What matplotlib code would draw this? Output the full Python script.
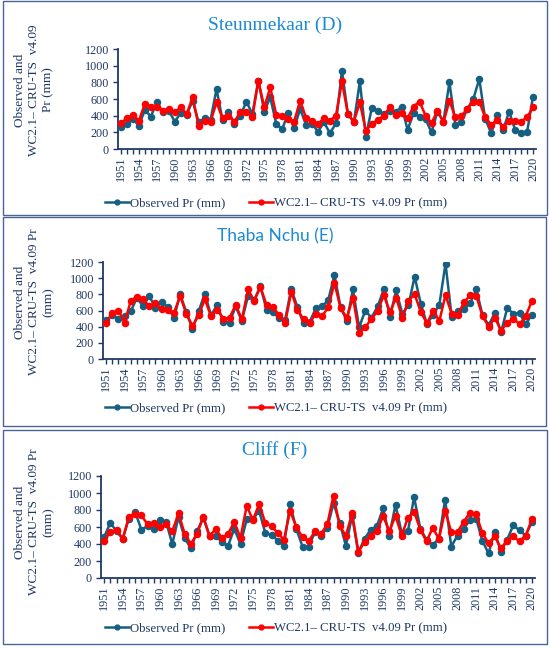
import matplotlib
matplotlib.use("Agg")
import matplotlib.pyplot as plt
from matplotlib.patches import Rectangle
from matplotlib.lines import Line2D
import numpy as np

years = list(range(1951, 2021))

steun_obs = [260, 300, 360, 280, 470, 390, 560, 440, 460, 330,
             430, 410, 580, 320, 370, 350, 720, 350, 450, 300,
             400, 570, 420, 820, 450, 620, 300, 240, 430, 250,
             480, 290, 300, 210, 320, 190, 310, 940, 420, 320,
             810, 150, 490, 460, 420, 460, 440, 510, 230, 430,
             390, 360, 200, 450, 330, 800, 290, 320, 480, 600,
             840, 360, 190, 410, 230, 450, 230, 190, 200, 630]
steun_wc = [310, 370, 410, 340, 540, 510, 510, 460, 480, 440,
            500, 420, 620, 280, 340, 330, 560, 370, 400, 330,
            440, 450, 380, 820, 500, 740, 410, 400, 360, 330,
            580, 370, 340, 300, 370, 340, 400, 810, 420, 330,
            560, 220, 300, 350, 400, 500, 410, 430, 370, 510,
            570, 400, 310, 460, 320, 580, 380, 400, 480, 570,
            570, 380, 290, 350, 260, 340, 340, 330, 380, 500]

thaba_obs = [480, 540, 500, 530, 590, 760, 650, 780, 630, 710,
             640, 510, 800, 580, 370, 590, 810, 540, 670, 460,
             450, 650, 470, 780, 730, 900, 610, 580, 510, 480,
             870, 640, 440, 460, 630, 650, 730, 1040, 640, 470,
             860, 390, 600, 510, 650, 860, 520, 850, 560, 670,
             1020, 680, 430, 550, 670, 1180, 520, 590, 620, 690,
             860, 540, 420, 570, 330, 630, 560, 570, 430, 550]
thaba_wc = [440, 570, 600, 450, 720, 770, 740, 650, 690, 620,
            610, 570, 780, 560, 410, 540, 740, 530, 610, 500,
            510, 670, 490, 860, 720, 890, 670, 640, 550, 440,
            830, 610, 490, 450, 560, 530, 640, 940, 630, 510,
            760, 320, 390, 500, 590, 790, 580, 760, 510, 720,
            800, 580, 440, 600, 470, 790, 560, 550, 700, 790,
            780, 530, 400, 510, 350, 450, 500, 430, 530, 720]

cliff_obs = [480, 650, 550, 460, 700, 780, 570, 610, 580, 680,
             660, 400, 720, 470, 350, 550, 710, 500, 500, 420,
             380, 580, 400, 690, 690, 790, 530, 510, 440, 380,
             870, 580, 370, 370, 540, 500, 590, 880, 650, 380,
             730, 300, 460, 570, 610, 820, 500, 860, 530, 550,
             950, 580, 450, 390, 460, 920, 370, 500, 580, 680,
             700, 440, 290, 540, 310, 450, 620, 560, 500, 660]
cliff_wc = [440, 540, 570, 460, 720, 750, 740, 630, 650, 600,
            630, 550, 760, 520, 400, 520, 720, 490, 580, 470,
            520, 660, 470, 850, 680, 870, 650, 610, 530, 450,
            790, 600, 480, 430, 550, 520, 630, 970, 610, 500,
            760, 310, 420, 500, 550, 730, 550, 730, 500, 710,
            780, 570, 430, 590, 460, 790, 540, 540, 660, 770,
            750, 530, 410, 490, 350, 440, 490, 430, 500, 690]

titles = ["Steunmekaar (D)", "Thaba Nchu (E)", "Cliff (F)"]
ylabels = ["Observed and\nWC2.1\u2013 CRU-TS  v4.09\nPr (mm)",
           "Observed and\nWC2.1\u2013 CRU-TS  v4.09 Pr\n(mm)",
           "Observed and\nWC2.1\u2013 CRU-TS  v4.09 Pr\n(mm)"]
legend_labels = ["Observed Pr (mm)", "WC2.1\u2013 CRU-TS  v4.09 Pr (mm)"]
yticks = [0, 200, 400, 600, 800, 1000, 1200]
xtick_years = list(range(1951, 2021, 3))

obs_series = [steun_obs, thaba_obs, cliff_obs]
wc_series = [steun_wc, thaba_wc, cliff_wc]

W, H = 550, 649
fig = plt.figure(figsize=(W / 100, H / 100), dpi=100)

def fx(x):
    return x / W

def fy(y):
    return 1 - y / H

NAVY = "#1f3864"
TEAL = "#156082"
RED = "#ff0000"
TITLE_C = "#1b8ad3"
SERIF = "Liberation Serif"

# panel geometry in pixels
boxes = [(3, 1, 544, 214), (3, 217, 543, 209), (3, 430, 544, 214)]
axes_px = [(118, 536, 49, 149), (103, 535, 262, 359), (101, 535, 476, 578)]
title_y = [25, 236, 450]
title_font = [(SERIF, 14), ("Lato", 12.5), (SERIF, 14)]
legend_y = [203, 408, 628]
ylabel_y = [90, 302, 522]

for i in range(3):
    bx, by, bw, bh = boxes[i]
    fig.patches.append(Rectangle((fx(bx), fy(by + bh)), bw / W, bh / H,
                                 transform=fig.transFigure, fill=False,
                                 edgecolor="#4a6496", lw=1.0))
    l, r, t, b = axes_px[i]
    ax = fig.add_axes([fx(l), fy(b), (r - l) / W, (b - t) / H])
    ax.plot(years, obs_series[i], color=TEAL, lw=1.8, marker="o", ms=4.4,
            label=legend_labels[0], zorder=3)
    ax.plot(years, wc_series[i], color=RED, lw=1.8, marker="o", ms=4.4,
            label=legend_labels[1], zorder=4)
    ax.set_xlim(1950.5, 2020.5)
    ax.set_ylim(0, 1200)
    ax.set_yticks(yticks)
    ax.set_xticks(xtick_years)
    ax.set_xticks(years, minor=True)
    ax.set_xticklabels([str(y) for y in xtick_years], rotation=90)
    for s in ["top", "right"]:
        ax.spines[s].set_visible(False)
    for s in ["left", "bottom"]:
        ax.spines[s].set_color(NAVY)
        ax.spines[s].set_linewidth(1.3)
    ax.tick_params(axis="both", which="both", color=NAVY, width=1.0,
                   direction="out", labelcolor=NAVY)
    ax.tick_params(axis="x", which="both", length=3.5, pad=2)
    ax.tick_params(axis="y", length=3.5, pad=3)
    for lab in ax.get_xticklabels() + ax.get_yticklabels():
        lab.set_fontfamily(SERIF)
        lab.set_fontsize(8.7)
    fam, sz = title_font[i]
    fig.text(fx(275), fy(title_y[i]), titles[i], ha="center", va="center",
             fontsize=sz, family=fam, color=TITLE_C)
    fig.text(fx(34), fy(ylabel_y[i]), ylabels[i], rotation=90,
             ha="center", va="center", fontsize=9.5, family=SERIF,
             color=NAVY, linespacing=1.25, multialignment="center")
    handles = [Line2D([], [], color=TEAL, lw=1.8, marker="o", ms=3.5),
               Line2D([], [], color=RED, lw=1.8, marker="o", ms=3.5)]
    fig.legend(handles, legend_labels, loc="center",
               bbox_to_anchor=(fx(276), fy(legend_y[i])), ncol=2,
               frameon=False, prop={"family": SERIF, "size": 9.2},
               handlelength=1.9, handletextpad=0.1, columnspacing=1.8,
               labelcolor=NAVY, borderaxespad=0, borderpad=0)

fig.savefig("out.png", dpi=100)
